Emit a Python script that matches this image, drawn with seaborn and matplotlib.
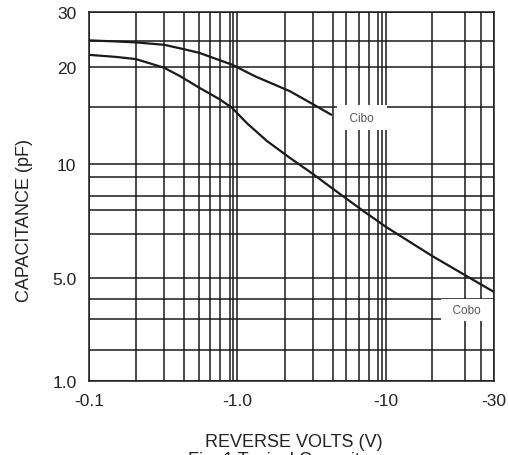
import numpy as np
import pandas as pd
import matplotlib
matplotlib.use("Agg")
import matplotlib.pyplot as plt
import seaborn as sns

# ---- data (reverse volts magnitude, capacitance in pF) ----
cibo_volts = [0.1, 0.15, 0.2, 0.3, 0.4, 0.5, 0.87, 1.3, 2.15, 3.0, 3.9]
cibo_pf = [25.1, 24.9, 24.7, 24.2, 23.3, 22.6, 20.4, 18.7, 16.8, 15.3, 14.2]

cobo_volts = [0.1, 0.15, 0.2, 0.3, 0.38, 0.5, 0.7, 0.87, 1.15, 1.54, 2.15, 3.0, 4.0, 6.4, 10.0, 15, 20, 30]
cobo_pf = [22.2, 21.8, 21.4, 19.9, 18.7, 17.25, 15.83, 14.9, 13.39, 11.78, 10.44, 9.22, 8.36, 6.96, 6.28, 5.48, 5.06, 4.31]

x_tick_values = [0.1, 1.0, 10, 30]
x_tick_labels = ["-0.1", "-1.0", "-10", "-30"]
y_tick_values = [1, 5, 10, 20, 30]
y_tick_labels = ["1.0", "5.0", "10", "20", "30"]

x_grid_values = [0.1, 0.2, 0.3, 0.4, 0.5, 0.6, 0.7, 0.8, 0.9, 1, 2, 3, 4, 5, 6, 7, 8, 9, 10, 15, 20, 25, 30]
y_grid_values = [1, 2, 3, 4, 5, 6, 7, 8, 9, 10, 15, 20, 25, 30]

# ---- hand-drawn graph paper scale (relative spacing of the printed grid) ----
x_paper_spacing = [0, 47, 75, 95, 110, 121, 131, 141, 144, 148, 196, 224, 244, 257, 270, 280, 289, 293, 297, 343, 376, 392, 405]
y_paper_spacing = [0, 31, 62, 82, 103, 147, 171, 185, 204, 217, 274, 314, 340, 369]


def make_scale(vals, spacing):
    lv = np.log10(np.asarray(vals, float))
    sp = np.asarray(spacing, float)
    s0 = (sp[1] - sp[0]) / (lv[1] - lv[0])
    s1 = (sp[-1] - sp[-2]) / (lv[-1] - lv[-2])

    def fwd(v):
        v = np.log10(np.maximum(np.asarray(v, float), 1e-9))
        out = np.interp(v, lv, sp)
        out = np.where(v < lv[0], sp[0] + (v - lv[0]) * s0, out)
        out = np.where(v > lv[-1], sp[-1] + (v - lv[-1]) * s1, out)
        return out

    def inv(p):
        p = np.asarray(p, float)
        out = np.interp(p, sp, lv)
        out = np.where(p < sp[0], lv[0] + (p - sp[0]) / s0, out)
        out = np.where(p > sp[-1], lv[-1] + (p - sp[-1]) / s1, out)
        return 10 ** out

    return fwd, inv


sns.set_theme(style="white")
plt.rcParams["font.family"] = ["Liberation Sans", "DejaVu Sans"]

fig = plt.figure(figsize=(5.08, 4.56), dpi=100)
ax = fig.add_axes([89 / 508, 1 - 382 / 456, 405 / 508, 369 / 456])

ax.set_xscale("function", functions=make_scale(x_grid_values, x_paper_spacing))
ax.set_yscale("function", functions=make_scale(y_grid_values, y_paper_spacing))

df_cibo = pd.DataFrame({"V": cibo_volts, "C": cibo_pf})
df_cobo = pd.DataFrame({"V": cobo_volts, "C": cobo_pf})
sns.lineplot(data=df_cibo, x="V", y="C", ax=ax, color="#1a1a1a", lw=1.6,
             estimator=None, sort=False, zorder=6)
sns.lineplot(data=df_cobo, x="V", y="C", ax=ax, color="#1a1a1a", lw=1.6,
             estimator=None, sort=False, zorder=6)

ax.set_xlim(0.1, 30)
ax.set_ylim(1, 30)

ax.set_xticks(x_tick_values)
ax.set_xticklabels(x_tick_labels)
ax.set_yticks(y_tick_values)
ax.set_yticklabels(y_tick_labels)
ax.set_xticks(x_grid_values, minor=True)
ax.set_yticks(y_grid_values, minor=True)
ax.tick_params(which="both", length=0, labelsize=12.5, colors="#222222")
ax.tick_params(axis="x", pad=9)
ax.tick_params(axis="y", pad=9)
ax.grid(which="both", color="#1a1a1a", lw=1.1)
for s in ax.spines.values():
    s.set_color("#1a1a1a")
    s.set_linewidth(1.1)

ax.set_xlabel("")
ax.set_ylabel("CAPACITANCE (pF)", fontsize=13, color="#222222")
ax.yaxis.set_label_coords(-0.138, 1 - (220 - 13) / 369)

fig.text(294 / 508, 1 - 447 / 456, "REVERSE VOLTS (V)", ha="center", va="baseline",
         fontsize=13, color="#222222")
fig.text(293 / 508, 1 - 465 / 456, "Fig. 1 Typical Capacitance", ha="center", va="baseline",
         fontsize=13, color="#222222")

ax.text(6.28, 13.9, "  Cibo  ", ha="center", va="center", fontsize=8.5, color="#555555",
        zorder=5, bbox=dict(boxstyle="square,pad=0.55", fc="white", ec="none"))
ax.text(20.6, 3.42, "  Cobo  ", ha="center", va="center", fontsize=8.5, color="#555555",
        zorder=5, bbox=dict(boxstyle="square,pad=0.45", fc="white", ec="none"))

fig.savefig("out.png", dpi=100)
